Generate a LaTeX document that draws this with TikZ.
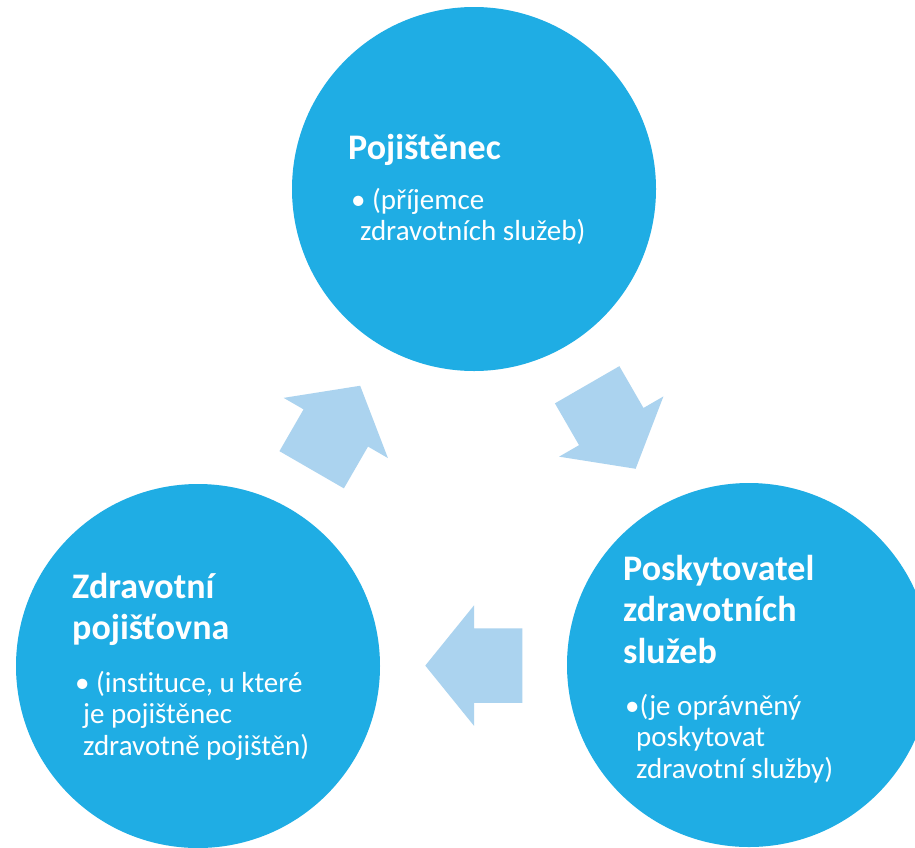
\documentclass[tikz,border=0pt]{standalone}
\usepackage{fontspec}
\setmainfont{Carlito}[Ligatures=NoCommon]
\usetikzlibrary{shapes.arrows,calc}

\definecolor{circblue}{RGB}{31,173,228}
\definecolor{arrowblue}{RGB}{171,211,239}

\tikzset{
	party/.style={circle, fill=circblue, minimum size=364pt, inner sep=0pt},
	flow/.style={single arrow, fill=arrowblue, minimum height=97pt,
		minimum width=120pt, inner xsep=0pt, inner ysep=37pt,
		single arrow head extend=23pt, single arrow tip angle=102, anchor=tip},
	headtext/.style={text=white, font=\fontsize{36}{41.5}\selectfont\bfseries,
		text width=290pt, align=flush left, inner sep=0pt, anchor=base west},
	bodytext/.style={text=white, font=\fontsize{29}{31.5}\selectfont,
		text width=290pt, align=flush left, inner sep=0pt, anchor=base west}
}

\begin{document}
\begin{tikzpicture}[x=1pt, y=-1pt]

	\useasboundingbox (0,0) rectangle (915,847);
	\fill[white] (0,0) rectangle (915,847);

	% Circle node definitions.
	\node[party]   (pojistenec) at (474,189) {};
	\node[party]   (pojistovna) at (198,666) {};
	\node[party] (poskytovatel) at (749,665) {};

	% Arrows between the circles.
	\node[flow, rotate=60]   (up_arrow) at ($(pojistovna)!0.5!(pojistenec)!48.5pt!(pojistenec)$) {};
	\node[flow, rotate=-60] (down_arrow) at ($(pojistenec)!0.5!(poskytovatel)!48.5pt!(poskytovatel)$) {};
	\node[flow, rotate=180] (left_arrow) at ($(poskytovatel)!0.5!(pojistovna)!48.5pt!(pojistovna)$) {};

	% Texts.
	\node[headtext]   (pojistenec_head) at (348,159) {Pojištěnec};
	\node[bodytext]   (pojistenec_body) at (351,209) {• (příjemce\\\hspace*{9pt}zdravotních služeb)};
	\node[headtext]   (pojistovna_head) at (72,598) {Zdravotní\\pojišťovna};
	\node[bodytext]   (pojistovna_body) at (75,692) {• (instituce, u které\\\hspace*{8pt}je pojištěnec\\\hspace*{8pt}zdravotně pojištěn)};
	\node[headtext] (poskytovatel_head) at (623,580) {Poskytovatel\\zdravotních\\služeb};
	\node[bodytext] (poskytovatel_body) at (625,715) {•(je oprávněný\\\hspace*{11pt}poskytovat\\\hspace*{11pt}zdravotní služby)};

\end{tikzpicture}
\end{document}
